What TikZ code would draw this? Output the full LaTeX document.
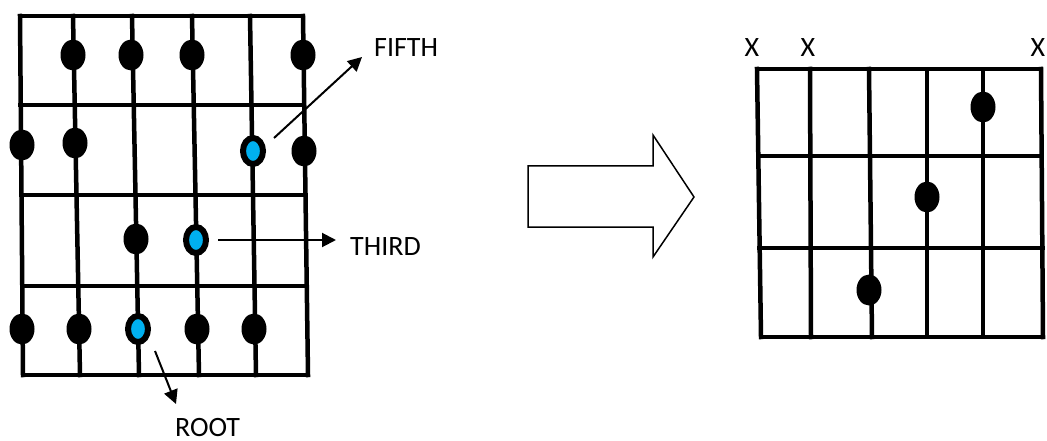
\documentclass[tikz,border=0pt]{standalone}
\usepackage{fontspec}
\setmainfont{Carlito}
\usetikzlibrary{shapes.geometric,arrows.meta}
\definecolor{noteblue}{HTML}{00B0F0}
\tikzset{
  gridline/.style={line width=4.5pt, line cap=rect},
  dot/.style={ellipse, fill=black, minimum width=25pt, minimum height=31pt, inner sep=0pt},
  bluedot/.style={ellipse, fill=noteblue, draw=black, line width=6pt, minimum width=20pt, minimum height=26pt, inner sep=0pt},
  pointer/.style={line width=2pt, -{Triangle[length=14pt,width=14pt]}},
  lbl/.style={font=\fontsize{28}{34}\selectfont, inner sep=0pt},
  bigarrow/.style={line width=1.5pt, fill=white, line join=miter}
}
\begin{document}
\begin{tikzpicture}[x=1pt,y=-1pt]
\useasboundingbox (0,0) rectangle (1047,441);
% ---------- left fretboard ----------
\foreach \i/\xt/\xb in {1/20/23, 2/73/80, 3/132/139, 4/192/199, 5/250/256, 6/303/308} {
  \coordinate (lt\i) at (\xt,16);
  \coordinate (lb\i) at (\xb,375);
  \draw[gridline] (lt\i) -- (lb\i);
}
\foreach \y in {16,105,195,286,375} {
  \pgfmathsetmacro{\xl}{20+3*(\y-16)/359}
  \pgfmathsetmacro{\xr}{303+5*(\y-16)/359}
  \coordinate (hl\y) at (\xl,\y);
  \coordinate (hr\y) at (\xr,\y);
  \draw[gridline] (hl\y) -- (hr\y);
}
% dots
\node[dot] (a1) at (73,55) {};
\node[dot] (a2) at (131,55) {};
\node[dot] (a3) at (192,55) {};
\node[dot] (a4) at (303,55) {};
\node[dot] (b1) at (22,145) {};
\node[dot] (b2) at (75,143) {};
\node[bluedot] (fifthdot) at (253,151) {};
\node[dot] (b4) at (304,151) {};
\node[dot] (c1) at (136,239) {};
\node[bluedot] (thirddot) at (196,240) {};
\node[dot] (d1) at (22,329) {};
\node[dot] (d2) at (79,329) {};
\node[bluedot] (rootdot) at (138,329) {};
\node[dot] (d4) at (197,329) {};
\node[dot] (d5) at (254,329) {};
% labels and pointers
\node[lbl, anchor=base west] (fifth) at (374,57) {FIFTH};
\node[lbl, anchor=base west] (third) at (350,255) {THIRD};
\node[lbl, anchor=base west] (root) at (175,436) {ROOT};
\coordinate (f5s) at (274,138);
\coordinate (f5e) at (362,57);
\coordinate (f3s) at (218,240);
\coordinate (f3e) at (336,240);
\coordinate (f1s) at (155,351);
\coordinate (f1e) at (176,404);
\draw[pointer] (f5s) -- (f5e);
\draw[pointer] (f3s) -- (f3e);
\draw[pointer] (f1s) -- (f1e);
% ---------- hollow arrow ----------
\draw[bigarrow] (528,166) -- (653,166) -- (653,135) -- (694,197) -- (653,257) -- (653,227) -- (528,227) -- cycle;
% ---------- right chord box ----------
\foreach \i/\xt/\xb in {1/757/761, 2/810/811, 3/869/872, 4/927/927, 5/983/983, 6/1041/1043} {
  \coordinate (rt\i) at (\xt,69);
  \coordinate (rb\i) at (\xb,337);
  \draw[gridline] (rt\i) -- (rb\i);
}
\foreach \y in {69,156,248,337} {
  \pgfmathsetmacro{\xl}{757+4*(\y-69)/268}
  \pgfmathsetmacro{\xr}{1041+2*(\y-69)/268}
  \coordinate (rl\y) at (\xl,\y);
  \coordinate (rr\y) at (\xr,\y);
  \draw[gridline] (rl\y) -- (rr\y);
}
\node[dot] (r1) at (983,107) {};
\node[dot] (r2) at (927,197) {};
\node[dot] (r3) at (869,290) {};
\node[lbl, anchor=base] (x1) at (752,57) {X};
\node[lbl, anchor=base] (x2) at (808,57) {X};
\node[lbl, anchor=base] (x3) at (1038,57) {X};
\end{tikzpicture}
\end{document}
